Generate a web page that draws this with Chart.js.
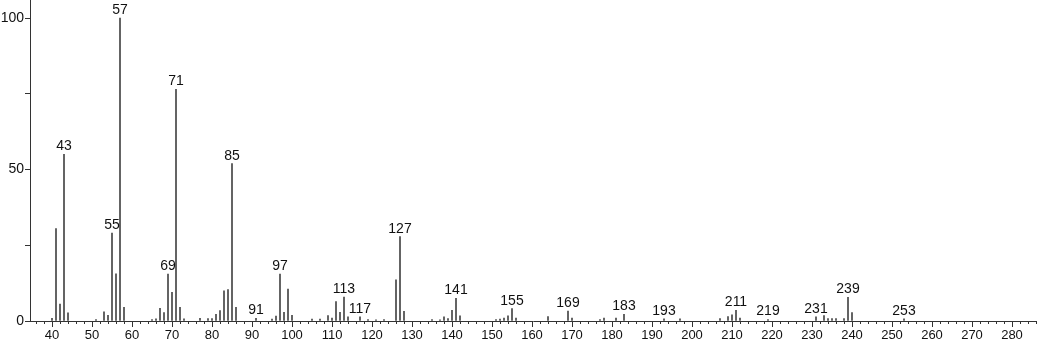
<!DOCTYPE html>
<html>
<head>
<meta charset="utf-8">
<script src="https://cdn.jsdelivr.net/npm/chart.js@4"></script>
<style>
html,body{margin:0;padding:0;background:#fff;overflow:hidden;}
#wrap{width:1037px;height:345px;position:relative;}
</style>
</head>
<body>
<div id="wrap"><canvas id="c"></canvas></div>
<script>
const masses = [40,41,42,43,44,51,53,54,55,56,57,58,65,66,67,68,69,70,71,72,73,77,79,80,81,82,83,84,85,86,
  91,95,96,97,98,99,100,105,107,109,110,111,112,113,114,117,119,121,123,126,127,128,135,137,138,139,140,141,142,
  151,152,153,154,155,156,164,169,170,177,178,181,183,193,197,207,209,210,211,212,219,231,233,234,235,236,238,239,240,253];
const intensities = [0.9,30.5,5.6,55,2.7,0.5,3,1.9,29,15.6,100,4.5,0.5,0.7,4.2,2.8,15.5,9.5,76.5,4.5,0.7,0.9,0.8,0.8,2.2,3.4,10,10.4,52,4.5,
  0.9,0.6,1.6,15.5,2.9,10.5,1.9,0.6,0.6,1.8,1,6.4,2.9,7.9,1.4,1.4,0.5,0.4,0.5,13.6,27.9,3.2,0.5,0.4,1.4,0.8,3.5,7.5,1.7,
  0.5,0.6,1,1.7,4.1,1,1.5,3.3,1,0.5,1,1,2.2,0.7,0.7,0.8,1.5,2,3.5,1,0.5,1.4,1.8,0.8,0.8,0.8,0.8,7.8,2.8,0.7];
const labelledPeaks = [43,55,57,69,71,85,91,97,113,117,127,141,155,169,183,193,211,219,231,239,253];
const xTickLabels = [40,50,60,70,80,90,100,110,120,130,140,150,160,170,180,190,200,210,220,230,240,250,260,270,280];
const yTickLabels = [0,50,100];

const FONT = "'Liberation Sans', Arial, sans-serif";

const minorTicks = {
  id: 'minorTicks',
  afterDraw(chart) {
    const xs = chart.scales.x, ctx = chart.ctx;
    ctx.save();
    ctx.strokeStyle = '#333';
    ctx.lineWidth = 1;
    for (let m = 36; m <= 286; m += 2) {
      if (m % 10 === 0) continue;
      const px = Math.round(xs.getPixelForValue(m)) + 0.5;
      ctx.beginPath();
      ctx.moveTo(px, xs.top);
      ctx.lineTo(px, xs.top + 3);
      ctx.stroke();
    }
    ctx.restore();
  }
};

const peakLabels = {
  id: 'peakLabels',
  afterDatasetsDraw(chart) {
    const meta = chart.getDatasetMeta(0), ctx = chart.ctx;
    ctx.save();
    ctx.font = '14px ' + FONT;
    ctx.fillStyle = '#111';
    ctx.textAlign = 'center';
    ctx.textBaseline = 'alphabetic';
    labelledPeaks.forEach(m => {
      const i = masses.indexOf(m);
      if (i < 0) return;
      const el = meta.data[i];
      ctx.fillText(String(m), el.x, el.y - 4);
    });
    ctx.restore();
  }
};

new Chart(document.getElementById('c'), {
  type: 'bar',
  data: {
    datasets: [{
      data: masses.map((m, i) => ({x: m, y: intensities[i]})),
      backgroundColor: '#595959',
      borderWidth: 0,
      barThickness: 1.2
    }]
  },
  options: {
    responsive: true,
    maintainAspectRatio: false,
    animation: false,
    layout: {padding: {top: 0, right: 1, left: 0, bottom: 0}},
    plugins: {legend: {display: false}, tooltip: {enabled: false}},
    scales: {
      x: {
        type: 'linear',
        offset: false,
        bounds: 'data',
        min: 34.5,
        max: 286,
        afterFit(s) { s.height = 24; s.paddingLeft = 0; s.paddingRight = 0; },
        border: {display: true, color: '#333', width: 1},
        grid: {display: true, drawOnChartArea: false, offset: false, tickLength: 6, tickColor: '#333'},
        afterBuildTicks(s) { s.ticks = xTickLabels.map(v => ({value: v})); },
        ticks: {
          includeBounds: false,
          autoSkip: false,
          maxRotation: 0,
          padding: 1,
          color: '#111',
          font: {family: FONT, size: 13}
        }
      },
      y: {
        bounds: 'data',
        min: 0,
        max: 106,
        afterFit(s) { s.width = 30; s.paddingTop = 0; s.paddingBottom = 0; },
        border: {display: true, color: '#333', width: 1},
        grid: {display: true, drawOnChartArea: false, tickLength: 5, tickColor: '#333'},
        afterBuildTicks(s) { s.ticks = [0,25,50,75,100].map(v => ({value: v})); },
        ticks: {
          padding: 1,
          color: '#111',
          font: {family: FONT, size: 14},
          callback: v => yTickLabels.includes(v) ? String(v) : ''
        }
      }
    }
  },
  plugins: [minorTicks, peakLabels]
});
</script>
</body>
</html>
